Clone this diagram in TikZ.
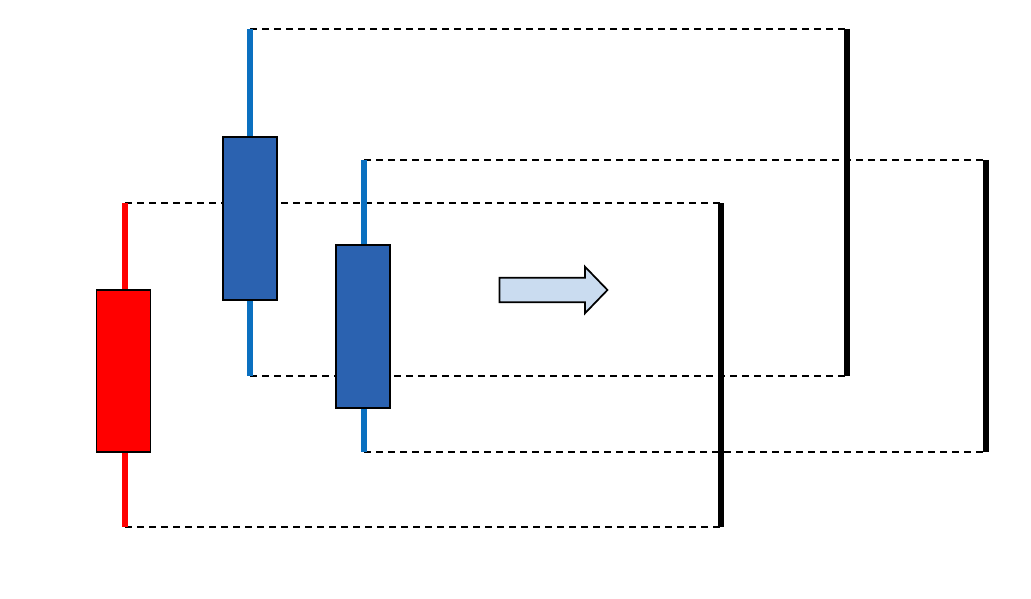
\documentclass[tikz,border=0pt]{standalone}
\usetikzlibrary{positioning,shapes.arrows}
\definecolor{bearred}{HTML}{FF0000}
\definecolor{bullbody}{HTML}{2B62B0}
\definecolor{bullwick}{HTML}{0A70C0}
\definecolor{arrowfill}{HTML}{CADCF0}
\tikzset{
    %candle parts
    wick/.style={line width=3.8pt},
    candlebody/.style={
      rectangle,
      draw=black, line width=1.3pt,
      inner sep=0pt,
      minimum width=40.5pt,
      minimum height=122pt},
    rangebar/.style={line width=4pt, black},
    dashlink/.style={line width=1.1pt, dash pattern=on 5.3pt off 3.7pt},
    moveright/.style={
      single arrow,
      draw=black, line width=1.3pt,
      fill=arrowfill,
      inner xsep=0pt, inner ysep=8.6pt,
      minimum height=81pt,
      minimum width=34pt,
      single arrow head extend=8.2pt,
      single arrow tip angle=92}
}
\begin{document}
\begin{tikzpicture}[x=0.75pt,y=-0.75pt]
    \useasboundingbox (0,0) rectangle (1031,599);
    % wick ends and ranges
    \coordinate (rtop) at (125,203);
    \coordinate (rbot) at (125,527);
    \coordinate (atop) at (250,29);
    \coordinate (abot) at (250,376);
    \coordinate (btop) at (364,160);
    \coordinate (bbot) at (364,452);
    \coordinate (rrtop) at (721,203);
    \coordinate (rrbot) at (721,527);
    \coordinate (artop) at (847,29);
    \coordinate (arbot) at (847,376);
    \coordinate (brtop) at (986,160);
    \coordinate (brbot) at (986,452);
    % dashed links
    \draw [dashlink] (rtop) -- (rrtop);
    \draw [dashlink] (rbot) -- (rrbot);
    \draw [dashlink] (atop) -- (artop);
    \draw [dashlink] (abot) -- (arbot);
    \draw [dashlink] (btop) -- (brtop);
    \draw [dashlink] (bbot) -- (brbot);
    % ranges
    \draw [rangebar] (rrtop) -- (rrbot);
    \draw [rangebar] (artop) -- (arbot);
    \draw [rangebar] (brtop) -- (brbot);
    % candles
    \draw [wick, bearred] (rtop) -- (rbot);
    \draw [wick, bullwick] (atop) -- (abot);
    \draw [wick, bullwick] (btop) -- (bbot);
    \node (red) [candlebody, fill=bearred] at (123.5,371) {};
    \node (bluea) [candlebody, fill=bullbody] at (250,218.5) {};
    \node (blueb) [candlebody, fill=bullbody] at (363,326.5) {};
    % arrow
    \node (move) [moveright] at (547.5,290) {};
\end{tikzpicture}
\end{document}
